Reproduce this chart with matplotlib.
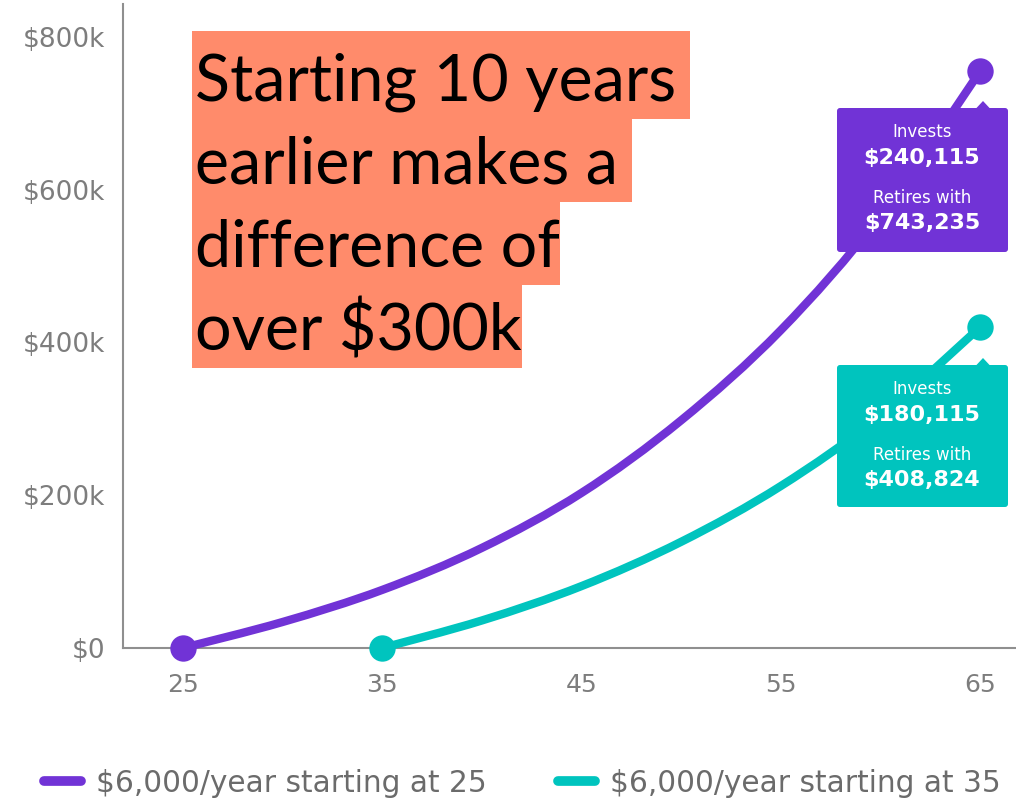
import matplotlib
matplotlib.use('Agg')
import matplotlib.pyplot as plt
from matplotlib.path import Path
from matplotlib.patches import PathPatch, Rectangle, FancyBboxPatch, Polygon
from matplotlib.lines import Line2D
from matplotlib.transforms import Affine2D

# ---------------- data ----------------
ages_early = [25, 30, 35, 40, 45, 50, 55, 60, 65]
balance_early = [0, 34, 76, 131, 203, 298, 416, 566, 755]        # $k
ages_late = [35, 40, 45, 50, 55, 60, 65]
balance_late = [0, 36, 81, 139, 212, 304, 420]                    # $k
x_ticks = [25, 35, 45, 55, 65]
y_ticks = [0, 200, 400, 600, 800]
y_tick_labels = [r'\$0', r'\$200k', r'\$400k', r'\$600k', r'\$800k']
legend_labels = [r'\$6,000/year starting at 25', r'\$6,000/year starting at 35']
invests = [r'\$240,115', r'\$180,115']
retires = [r'\$743,235', r'\$408,824']
headline = ['Starting 10 years ', 'earlier makes a ', 'difference of', 'over \\$300k']

PURPLE = '#7133D6'
TEAL = '#00C4BE'
SALMON = '#FF8B6B'
GRAY = '#7d7d7d'

W, H = 1016, 801
fig = plt.figure(figsize=(W / 100, H / 100), dpi=100)
pix = Affine2D().scale(1, -1).translate(0, H)   # image pixel coords (y down) -> display

ax = fig.add_axes([123 / W, 1 - 648 / H, (W - 123) / W, (648 - 4) / H])
ax.set_xlim(22, 66.8)
ax.set_ylim(0, 843)
for s in ['top', 'right']:
    ax.spines[s].set_visible(False)
for s in ['left', 'bottom']:
    ax.spines[s].set_color('#8f8f8f')
    ax.spines[s].set_linewidth(1.5)
ax.set_xticks(x_ticks)
ax.set_xticklabels([str(v) for v in x_ticks])
ax.set_yticks(y_ticks)
ax.set_yticklabels(y_tick_labels)
ax.tick_params(axis='x', length=0, pad=18, labelsize=18, labelcolor=GRAY)
ax.tick_params(axis='y', length=0, pad=13, labelsize=19, labelcolor=GRAY)


def smooth_path(xs, ys):
    pts = list(zip(xs, ys))
    n = len(pts)
    verts = [pts[0]]
    codes = [Path.MOVETO]
    for i in range(n - 1):
        p0 = pts[max(i - 1, 0)]
        p1 = pts[i]
        p2 = pts[i + 1]
        p3 = pts[min(i + 2, n - 1)]
        c1 = (p1[0] + (p2[0] - p0[0]) / 6, p1[1] + (p2[1] - p0[1]) / 6)
        c2 = (p2[0] - (p3[0] - p1[0]) / 6, p2[1] - (p3[1] - p1[1]) / 6)
        verts += [c1, c2, p2]
        codes += [Path.CURVE4] * 3
    return Path(verts, codes)


for xs, ys, col in [(ages_early, balance_early, PURPLE), (ages_late, balance_late, TEAL)]:
    patch = PathPatch(smooth_path(xs, ys), fill=False, edgecolor=col, lw=6,
                      capstyle='round', joinstyle='round', zorder=3)
    patch.set_clip_on(False)
    ax.add_patch(patch)
    ax.plot([xs[0], xs[-1]], [ys[0], ys[-1]], 'o', color=col, ms=19,
            mec='none', clip_on=False, zorder=4)

# ---------------- value boxes ----------------
boxes = [(108, 252, PURPLE, 0), (365, 507, TEAL, 1)]
for top, bot, col, k in boxes:
    fig.patches.append(FancyBboxPatch((837, top), 1008 - 837, bot - top,
                                      boxstyle='round,pad=0,rounding_size=3',
                                      transform=pix, facecolor=col, edgecolor='none',
                                      zorder=5))
    fig.patches.append(Polygon([(976, top + 0.5), (983, top - 7), (990, top + 0.5)],
                               closed=True, transform=pix, facecolor=col,
                               edgecolor='none', zorder=5))
    fig.text(922, top + 24, 'Invests', transform=pix, ha='center', va='center',
             color='white', fontsize=12, zorder=6)
    fig.text(922, top + 50, invests[k], transform=pix, ha='center', va='center',
             color='white', fontsize=16, fontweight='bold', zorder=6)
    fig.text(922, top + 90, 'Retires with', transform=pix, ha='center', va='center',
             color='white', fontsize=12, zorder=6)
    fig.text(922, top + 115, retires[k], transform=pix, ha='center', va='center',
             color='white', fontsize=16, fontweight='bold', zorder=6)

# ---------------- headline ----------------
renderer = fig.canvas.get_renderer()
probe = fig.text(0, 0, 'Starting 10 years', fontsize=50, family='Lato')
w50 = probe.get_window_extent(renderer).width
probe.remove()
hsize = 50 * 481 / w50

baselines = [100, 183, 267, 350]
tops = [31, 119, 202, 285, 368]
for i, line in enumerate(headline):
    t = fig.text(195, baselines[i], line.rstrip(), transform=pix, ha='left',
                 va='baseline', fontsize=hsize, family='Lato', color='black', zorder=8)
    wt = t.get_window_extent(renderer).width
    extra = 14 if line.endswith(' ') else 0
    fig.patches.append(Rectangle((192, tops[i]), 195 + wt + extra - 192,
                                 tops[i + 1] - tops[i], transform=pix,
                                 facecolor=SALMON, edgecolor='none', zorder=7))

# ---------------- legend ----------------
handles = [Line2D([], [], color=PURPLE, lw=7, solid_capstyle='round'),
           Line2D([], [], color=TEAL, lw=7, solid_capstyle='round')]
leg = fig.legend(handles, legend_labels, loc='center left',
                 bbox_to_anchor=(44 / W, 1 - 783 / H), ncol=2, frameon=False,
                 fontsize=21.3, handlelength=1.25, handletextpad=0.52,
                 columnspacing=2.4, borderpad=0, borderaxespad=0)
for txt in leg.get_texts():
    txt.set_color('#6b6b6b')

fig.savefig('out.png', dpi=100)
